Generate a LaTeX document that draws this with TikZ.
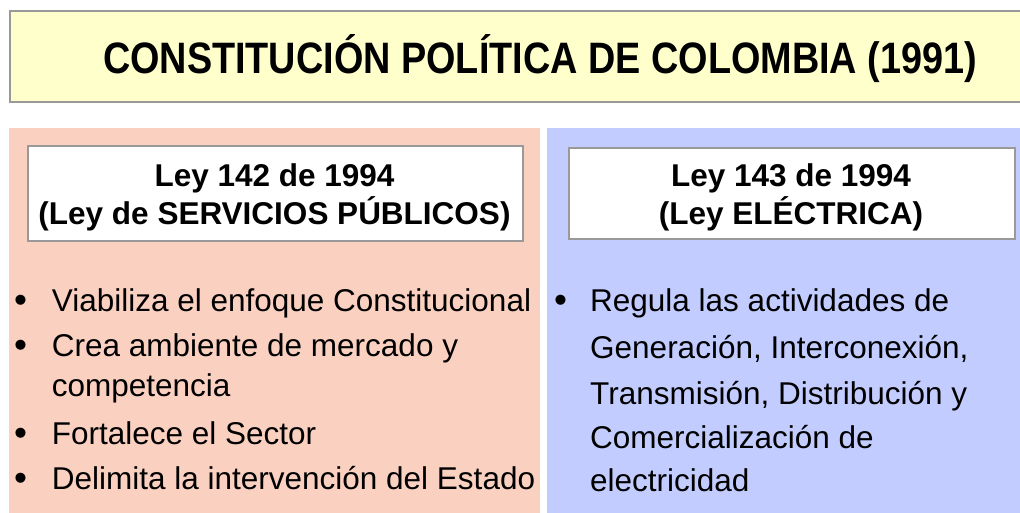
\documentclass[tikz,border=0pt]{standalone}
\usepackage{fontspec}
\setmainfont{Liberation Sans}
\usepackage{graphicx}
\definecolor{titleyellow}{HTML}{FFFFCC}
\definecolor{panelpink}{HTML}{FAD0C1}
\definecolor{panelblue}{HTML}{C2CCFF}
\definecolor{bordergray}{HTML}{999999}
\tikzset{
  panel/.style={draw=none, anchor=north west, inner sep=0pt},
  lawbox/.style={draw=bordergray, line width=2pt, fill=white, anchor=north west, inner sep=0pt},
  lawtext/.style={align=center, font=\bfseries\fontsize{31.5}{38}\selectfont, inner sep=0pt},
  itemtext/.style={anchor=base west, inner sep=0pt, font=\fontsize{31.5}{38}\selectfont},
  bullet/.style={anchor=base west, inner sep=0pt, font=\fontsize{37}{38}\selectfont},
}
\begin{document}
\begin{tikzpicture}[x=1pt, y=-1pt]
\useasboundingbox (0,0) rectangle (1020,513);
\fill[white] (0,0) rectangle (1020,513);
% title
\node[draw=bordergray, line width=2pt, fill=titleyellow, anchor=north west, inner sep=0pt,
      minimum width=1060pt, minimum height=91pt] (titlebox) at (9,10) {};
\node[anchor=base, inner sep=0pt] (title) at (540,74)
  {\resizebox{874pt}{\height}{\bfseries\fontsize{44}{50}\selectfont CONSTITUCIÓN POLÍTICA DE COLOMBIA (1991)}};
% panels
\node[panel, fill=panelpink, minimum width=531pt, minimum height=400pt] (left) at (9,128) {};
\node[panel, fill=panelblue, minimum width=480pt, minimum height=400pt] (right) at (547,128) {};
% law boxes
\node[lawbox, minimum width=495pt, minimum height=95pt] (box1) at (27,145) {};
\node[lawtext] (box1text) at (274.5,197) {Ley 142 de 1994\\(Ley de SERVICIOS PÚBLICOS)};
\node[lawbox, minimum width=446pt, minimum height=91pt] (box2) at (568,147) {};
\node[lawtext] (box2text) at (791,197) {Ley 143 de 1994\\(Ley ELÉCTRICA)};
% left bullets
\node[bullet] (lb1) at (14,312) {•};
\node[itemtext] (lt1) at (51.7,311) {Viabiliza el enfoque Constitucional};
\node[bullet] (lb2) at (14,357) {•};
\node[itemtext] (lt2) at (51.7,356) {Crea ambiente de mercado y};
\node[itemtext] (lt2b) at (51.7,396) {competencia};
\node[bullet] (lb3) at (14,445) {•};
\node[itemtext] (lt3) at (51.7,444) {Fortalece el Sector};
\node[bullet] (lb4) at (14,490) {•};
\node[itemtext] (lt4) at (51.7,489) {Delimita la intervención del Estado};
% right bullets
\node[bullet] (rb1) at (554,312) {•};
\node[itemtext] (rt1) at (590,311) {Regula las actividades de};
\node[itemtext] (rt2) at (590,358) {Generación, Interconexión,};
\node[itemtext] (rt3) at (590,404) {Transmisión, Distribución y};
\node[itemtext] (rt4) at (590,448) {Comercialización de};
\node[itemtext] (rt5) at (590,491) {electricidad};
\end{tikzpicture}
\end{document}
